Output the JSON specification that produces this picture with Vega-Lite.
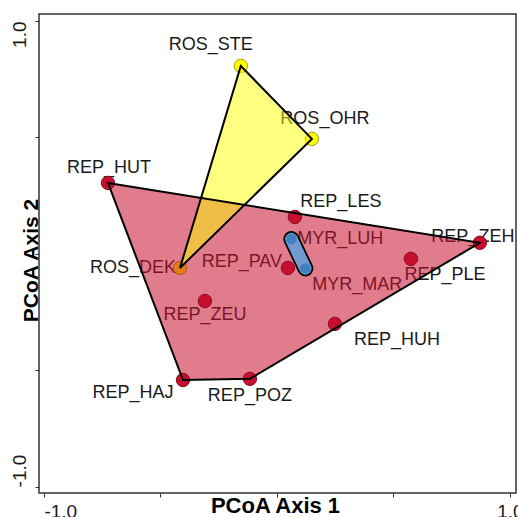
{
  "$schema": "https://vega.github.io/schema/vega-lite/v6.json",
  "width": 477,
  "height": 479,
  "autosize": {"type": "none"},
  "padding": {"left": 39, "top": 14, "right": 2, "bottom": 24},
  "background": "white",
  "config": {
    "font": "Liberation Sans",
    "view": {"stroke": "#333333", "strokeWidth": 1.5, "fill": "white"},
    "text": {"font": "Liberation Sans", "fontSize": 18, "color": "#1a1a1a", "align": "center", "baseline": "middle"}
  },
  "data": {
    "values": [
      {"name": "ROS_STE", "group": "ROS", "x": -0.155, "y": 0.807, "ord": 1},
      {"name": "ROS_OHR", "group": "ROS", "x": 0.150, "y": 0.494, "ord": 2},
      {"name": "ROS_DEK", "group": "ROS", "x": -0.416, "y": -0.060, "ord": 3},
      {"name": "REP_HUT", "group": "REP", "x": -0.725, "y": 0.305, "ord": 1},
      {"name": "REP_LES", "group": "REP", "x": 0.077, "y": 0.159, "ord": 0},
      {"name": "REP_ZEH", "group": "REP", "x": 0.871, "y": 0.048, "ord": 2},
      {"name": "REP_PLE", "group": "REP", "x": 0.575, "y": -0.021, "ord": 0},
      {"name": "REP_PAV", "group": "REP", "x": 0.047, "y": -0.060, "ord": 0},
      {"name": "REP_ZEU", "group": "REP", "x": -0.309, "y": -0.202, "ord": 0},
      {"name": "REP_HUH", "group": "REP", "x": 0.249, "y": -0.300, "ord": 0},
      {"name": "REP_POZ", "group": "REP", "x": -0.116, "y": -0.536, "ord": 3},
      {"name": "REP_HAJ", "group": "REP", "x": -0.403, "y": -0.541, "ord": 4},
      {"name": "MYR_LUH", "group": "MYR", "x": 0.062, "y": 0.064, "ord": 1},
      {"name": "MYR_MAR", "group": "MYR", "x": 0.122, "y": -0.062, "ord": 2}
    ]
  },
  "encoding": {
    "x": {
      "field": "x", "type": "quantitative",
      "scale": {"domain": [-1.021, 1.026], "nice": false, "zero": false},
      "axis": {
        "values": [-1, -0.5, 0, 0.5, 1],
        "labelExpr": "datum.value == 1 ? '1.0' : datum.value == -1 ? '-1.0' : ''",
        "domain": false, "grid": false,
        "tickSize": 4, "tickColor": "#333333", "tickWidth": 1,
        "labelFontSize": 19, "labelColor": "#1a1a1a", "labelPadding": 5,
        "labelBaseline": "top",
        "labelAlign": {"condition": {"test": "datum.value < 0", "value": "left"}, "value": "center"},
        "labelFlush": false, "labelOverlap": false,
        "title": "PCoA Axis 1", "titleFontSize": 22, "titleFontWeight": "bold", "titleColor": "#000000",
        "titleX": 236, "titleY": 19, "titleBaseline": "alphabetic", "titleAlign": "center"
      }
    },
    "y": {
      "field": "y", "type": "quantitative",
      "scale": {"domain": [-1.026, 1.030], "nice": false, "zero": false},
      "axis": {
        "values": [-1, -0.5, 0, 0.5, 1],
        "labelExpr": "datum.value == 1 ? '1.0' : datum.value == -1 ? '-1.0' : ''",
        "domain": false, "grid": false,
        "tickSize": 4, "tickColor": "#333333", "tickWidth": 1,
        "labelFontSize": 19, "labelColor": "#1a1a1a", "labelPadding": 16,
        "labelAngle": -90, "labelBaseline": "middle",
        "labelAlign": {"condition": {"test": "datum.value > 0", "value": "right"}, "value": "left"},
        "labelFlush": false, "labelOverlap": false,
        "title": "PCoA Axis 2", "titleFontSize": 21, "titleFontWeight": "bold", "titleColor": "#000000",
        "titleX": -2, "titleY": 246, "titleBaseline": "alphabetic", "titleAlign": "center", "titleAngle": -90
      }
    }
  },
  "layer": [
    {"transform": [{"filter": "datum.name == 'ROS_STE'"}], "mark": {"type": "text", "dx": -30, "dy": -21}, "encoding": {"text": {"field": "name"}}},
    {"transform": [{"filter": "datum.name == 'ROS_OHR'"}], "mark": {"type": "text", "dx": 13, "dy": -20}, "encoding": {"text": {"field": "name"}}},
    {"transform": [{"filter": "datum.name == 'ROS_DEK'"}], "mark": {"type": "text", "dx": -47, "dy": 0}, "encoding": {"text": {"field": "name"}}},
    {"transform": [{"filter": "datum.name == 'REP_HUT'"}], "mark": {"type": "text", "dx": 1, "dy": -15}, "encoding": {"text": {"field": "name"}}},
    {"transform": [{"filter": "datum.name == 'REP_LES'"}], "mark": {"type": "text", "dx": 46, "dy": -15}, "encoding": {"text": {"field": "name"}}},
    {"transform": [{"filter": "datum.name == 'REP_ZEH'"}], "mark": {"type": "text", "dx": -7, "dy": -6}, "encoding": {"text": {"field": "name"}}},
    {"transform": [{"filter": "datum.name == 'REP_PLE'"}], "mark": {"type": "text", "dx": 34, "dy": 16}, "encoding": {"text": {"field": "name"}}},
    {"transform": [{"filter": "datum.name == 'REP_PAV'"}], "mark": {"type": "text", "dx": -46, "dy": -6}, "encoding": {"text": {"field": "name"}}},
    {"transform": [{"filter": "datum.name == 'MYR_LUH'"}], "mark": {"type": "text", "dx": 49, "dy": 0}, "encoding": {"text": {"field": "name"}}},
    {"transform": [{"filter": "datum.name == 'MYR_MAR'"}], "mark": {"type": "text", "dx": 52, "dy": 17}, "encoding": {"text": {"field": "name"}}},
    {"transform": [{"filter": "datum.name == 'REP_ZEU'"}], "mark": {"type": "text", "dx": 0, "dy": 14}, "encoding": {"text": {"field": "name"}}},
    {"transform": [{"filter": "datum.name == 'REP_HUH'"}], "mark": {"type": "text", "dx": 62, "dy": 16}, "encoding": {"text": {"field": "name"}}},
    {"transform": [{"filter": "datum.name == 'REP_HAJ'"}], "mark": {"type": "text", "dx": -50, "dy": 13}, "encoding": {"text": {"field": "name"}}},
    {"transform": [{"filter": "datum.name == 'REP_POZ'"}], "mark": {"type": "text", "dx": 0, "dy": 17}, "encoding": {"text": {"field": "name"}}},
    {
      "transform": [{"filter": "datum.group == 'ROS'"}],
      "mark": {"type": "circle", "size": 180, "color": "#ffff00", "opacity": 1, "stroke": "#a0a000", "strokeWidth": 1}
    },
    {
      "transform": [{"filter": "datum.group == 'REP' && datum.ord > 0"}],
      "mark": {"type": "line", "interpolate": "linear-closed", "fill": "#c8102e", "fillOpacity": 0.55, "strokeOpacity": 0},
      "encoding": {"order": {"field": "ord", "type": "quantitative"}}
    },
    {
      "transform": [{"filter": "datum.group == 'REP'"}],
      "mark": {"type": "circle", "size": 180, "color": "#c8102e", "opacity": 1, "stroke": "#8a0a20", "strokeWidth": 1}
    },
    {
      "transform": [{"filter": "datum.group == 'ROS'"}],
      "mark": {"type": "line", "interpolate": "linear-closed", "fill": "#ffff00", "fillOpacity": 0.5, "strokeOpacity": 0},
      "encoding": {"order": {"field": "ord", "type": "quantitative"}}
    },
    {
      "transform": [{"filter": "datum.group != 'MYR' && datum.ord > 0"}],
      "mark": {"type": "line", "interpolate": "linear-closed", "color": "#000000", "strokeWidth": 2},
      "encoding": {"order": {"field": "ord", "type": "quantitative"}, "detail": {"field": "group"}}
    },
    {
      "transform": [{"filter": "datum.group == 'MYR'"}],
      "mark": {"type": "line", "color": "#000000", "strokeWidth": 16, "strokeCap": "round"},
      "encoding": {"order": {"field": "ord", "type": "quantitative"}}
    },
    {
      "transform": [{"filter": "datum.group == 'MYR'"}],
      "mark": {"type": "line", "color": "#7399cf", "strokeWidth": 12.5, "strokeCap": "round"},
      "encoding": {"order": {"field": "ord", "type": "quantitative"}}
    },
    {
      "transform": [{"filter": "datum.group == 'MYR'"}],
      "mark": {"type": "circle", "size": 110, "color": "#2b78b8", "opacity": 0.7}
    }
  ]
}
